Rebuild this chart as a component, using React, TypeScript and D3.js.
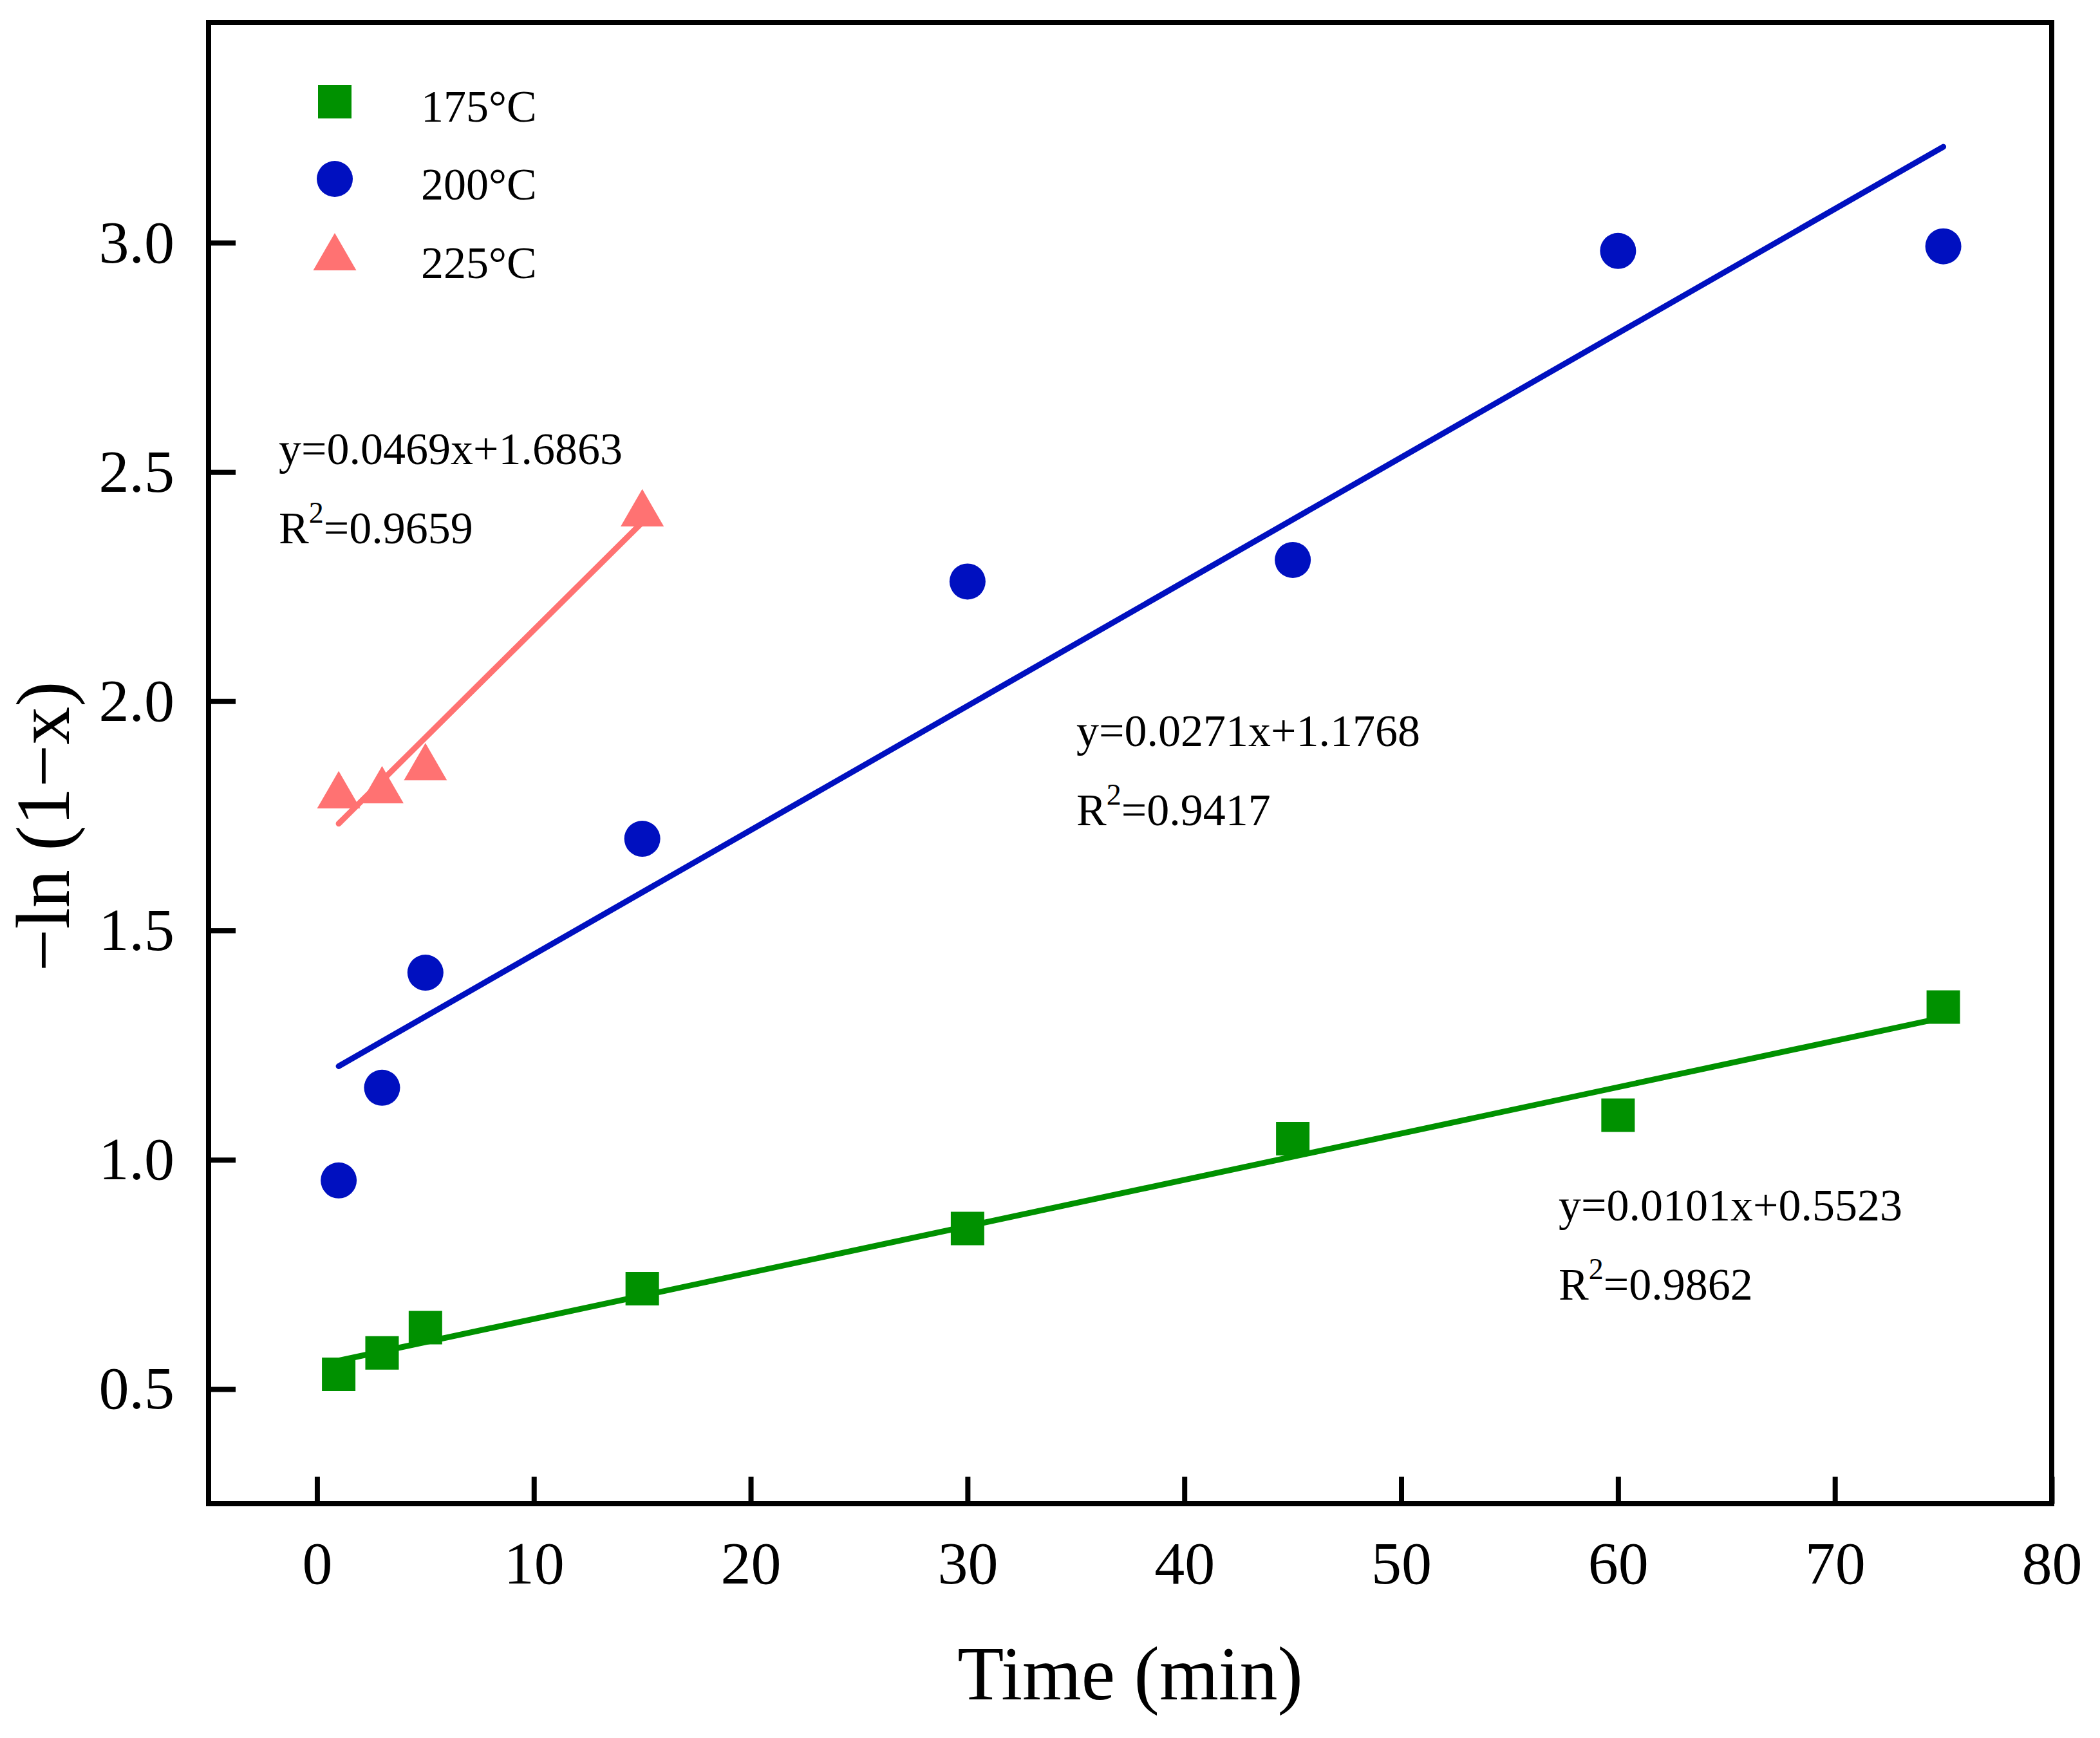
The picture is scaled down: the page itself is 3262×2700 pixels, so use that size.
import { useEffect, useRef } from 'react';
import * as d3 from 'd3';

// time points (min)
const times = [1, 3, 5, 15, 30, 45, 60, 75];
const times225 = [1, 3, 5, 15];

// -ln(1-x) values
const values175 = [0.532, 0.579, 0.634, 0.719, 0.85, 1.046, 1.097, 1.333];
const values200 = [0.955, 1.157, 1.408, 1.7, 2.261, 2.308, 2.982, 2.992];
const values225 = [1.807, 1.818, 1.868, 2.422];

// fitted line end points [t, y]
const fit175 = [[1, 0.562], [75, 1.31]];
const fit200 = [[1, 1.204], [75, 3.209]];
const fit225 = [[1, 1.733], [15, 2.39]];

const seriesLabels = ['175°C', '200°C', '225°C'];
const equations = ['y=0.0101x+0.5523', 'y=0.0271x+1.1768', 'y=0.0469x+1.6863'];
const rSquared = ['0.9862', '0.9417', '0.9659'];

const xTicks = [0, 10, 20, 30, 40, 50, 60, 70, 80];
const yTicks = [0.5, 1.0, 1.5, 2.0, 2.5, 3.0];

const WIDTH = 3262;
const HEIGHT = 2700;
const FONT = '"Liberation Serif", "Times New Roman", serif';

const GREEN = '#009100';
const BLUE = '#0010c0';
const PINK = '#ff7272';

export default function App() {
  const svgRef = useRef<SVGSVGElement>(null);

  useEffect(() => {
    if (!svgRef.current) return;
    const svg = d3.select(svgRef.current);
    svg.selectAll('*').remove();

    const left = 324;
    const right = 3187;
    const top = 35;
    const bottom = 2336;

    const x = d3.scaleLinear().domain([-5, 80]).range([left, right]);
    const y = d3.scaleLinear().domain([0.25, 3.48]).range([bottom, top]);

    svg
      .append('rect')
      .attr('width', WIDTH)
      .attr('height', HEIGHT)
      .attr('fill', '#ffffff');

    // axes
    const xAxis = svg
      .append('g')
      .attr('transform', `translate(0,${bottom})`)
      .call(
        d3
          .axisBottom(x)
          .tickValues(xTicks)
          .tickSizeInner(-42)
          .tickSizeOuter(0)
          .tickFormat(d3.format('d'))
      );
    xAxis.select('.domain').remove();
    xAxis.selectAll('.tick line').attr('stroke', '#000').attr('stroke-width', 8);
    xAxis
      .selectAll('.tick text')
      .attr('y', 124)
      .attr('dy', null)
      .attr('fill', '#000')
      .attr('font-family', FONT)
      .attr('font-size', 94);

    const yAxis = svg
      .append('g')
      .attr('transform', `translate(${left},0)`)
      .call(
        d3
          .axisLeft(y)
          .tickValues(yTicks)
          .tickSizeInner(-42)
          .tickSizeOuter(0)
          .tickFormat(d3.format('.1f'))
      );
    yAxis.select('.domain').remove();
    yAxis.selectAll('.tick line').attr('stroke', '#000').attr('stroke-width', 8);
    yAxis
      .selectAll('.tick text')
      .attr('x', -53)
      .attr('dy', '0.32em')
      .attr('fill', '#000')
      .attr('font-family', FONT)
      .attr('font-size', 94);

    // frame
    svg
      .append('rect')
      .attr('x', left)
      .attr('y', top)
      .attr('width', right - left)
      .attr('height', bottom - top)
      .attr('fill', 'none')
      .attr('stroke', '#000')
      .attr('stroke-width', 8);

    // fit lines
    const line = d3
      .line<number[]>()
      .x((d) => x(d[0]))
      .y((d) => y(d[1]));

    [
      { pts: fit175, color: GREEN },
      { pts: fit200, color: BLUE },
      { pts: fit225, color: PINK },
    ].forEach((f) => {
      svg
        .append('path')
        .attr('d', line(f.pts))
        .attr('fill', 'none')
        .attr('stroke', f.color)
        .attr('stroke-width', 9)
        .attr('stroke-linecap', 'round');
    });

    // markers
    const square = d3.symbol().type(d3.symbolSquare).size(52 * 52);
    const circle = d3.symbol().type(d3.symbolCircle).size(Math.PI * 28 * 28);
    const tri = (cx: number, cy: number) => {
      const w = 67;
      const h = 58;
      return `M${cx},${cy - h / 2}L${cx + w / 2},${cy + h / 2}L${cx - w / 2},${cy + h / 2}Z`;
    };

    svg
      .append('g')
      .selectAll('path')
      .data(times.map((t, i) => [t, values175[i]]))
      .join('path')
      .attr('d', square() as string)
      .attr('transform', (d) => `translate(${x(d[0])},${y(d[1])})`)
      .attr('fill', GREEN);

    svg
      .append('g')
      .selectAll('path')
      .data(times.map((t, i) => [t, values200[i]]))
      .join('path')
      .attr('d', circle() as string)
      .attr('transform', (d) => `translate(${x(d[0])},${y(d[1])})`)
      .attr('fill', BLUE);

    svg
      .append('g')
      .selectAll('path')
      .data(times225.map((t, i) => [t, values225[i]]))
      .join('path')
      .attr('d', (d) => tri(x(d[0]), y(d[1])))
      .attr('fill', PINK);

    // legend
    const legend = svg.append('g');
    legend
      .append('path')
      .attr('d', square() as string)
      .attr('transform', 'translate(520,158)')
      .attr('fill', GREEN);
    legend
      .append('path')
      .attr('d', circle() as string)
      .attr('transform', 'translate(520,278)')
      .attr('fill', BLUE);
    legend.append('path').attr('d', tri(520, 391)).attr('fill', PINK);
    [189, 310, 432].forEach((by, i) => {
      legend
        .append('text')
        .attr('x', 654)
        .attr('y', by)
        .attr('font-family', FONT)
        .attr('font-size', 70)
        .attr('fill', '#000')
        .text(seriesLabels[i]);
    });

    // equations
    const eqPos = [
      [2421, 1896],
      [1672, 1159],
      [433, 721],
    ];
    eqPos.forEach((p, i) => {
      svg
        .append('text')
        .attr('x', p[0])
        .attr('y', p[1])
        .attr('font-family', FONT)
        .attr('font-size', 70)
        .attr('fill', '#000')
        .text(equations[i]);
      const r = svg
        .append('text')
        .attr('x', p[0])
        .attr('y', p[1] + 123)
        .attr('font-family', FONT)
        .attr('font-size', 70)
        .attr('fill', '#000');
      r.append('tspan').text('R');
      r.append('tspan').attr('dy', -32).attr('font-size', 46).text('2');
      r.append('tspan').attr('dy', 32).text('=' + rSquared[i]);
    });

    // axis titles
    svg
      .append('text')
      .attr('x', (left + right) / 2)
      .attr('y', 2640)
      .attr('text-anchor', 'middle')
      .attr('font-family', FONT)
      .attr('font-size', 118)
      .attr('fill', '#000')
      .text('Time (min)');

    svg
      .append('text')
      .attr('transform', 'translate(107,1284) rotate(-90)')
      .attr('text-anchor', 'middle')
      .attr('font-family', FONT)
      .attr('font-size', 118)
      .attr('fill', '#000')
      .text('\u2212ln (1\u2212x)');
  }, []);

  return (
    <svg
      ref={svgRef}
      width={WIDTH}
      height={HEIGHT}
      style={{ position: 'absolute', left: 0, top: 0, display: 'block' }}
    />
  );
}
